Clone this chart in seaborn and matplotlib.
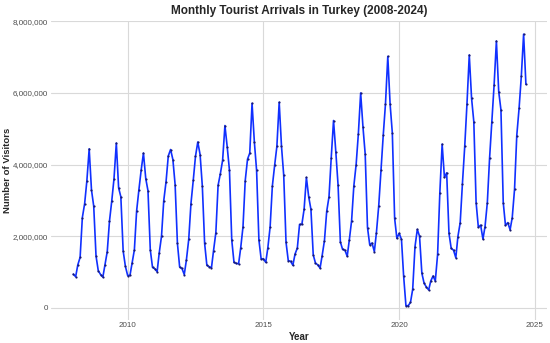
import numpy as np
import pandas as pd
import seaborn as sns
import matplotlib
matplotlib.use("Agg")
import matplotlib.pyplot as plt
import matplotlib.dates as mdates
from matplotlib.ticker import FuncFormatter

# monthly arrivals, millions (Jan 2008 - Sep 2024)
y2008 = [0.94, 0.87, 1.20, 1.41, 2.52, 2.91, 3.55, 4.44, 3.29, 2.84, 1.45, 1.04]
y2009 = [0.93, 0.86, 1.20, 1.57, 2.42, 2.99, 3.61, 4.60, 3.35, 3.10, 1.59, 1.16]
y2010 = [0.90, 0.91, 1.25, 1.62, 2.70, 3.30, 3.84, 4.32, 3.61, 3.27, 1.62, 1.13]
y2011 = [1.09, 1.01, 1.53, 2.00, 2.99, 3.52, 4.24, 4.42, 4.14, 3.44, 1.80, 1.14]
y2012 = [1.10, 0.93, 1.34, 1.91, 2.91, 3.56, 4.23, 4.63, 4.28, 3.40, 1.80, 1.19]
y2013 = [1.15, 1.12, 1.60, 2.10, 3.42, 3.75, 4.12, 5.09, 4.49, 3.84, 1.89, 1.27]
y2014 = [1.24, 1.23, 1.67, 2.26, 3.55, 4.15, 4.32, 5.71, 4.63, 3.84, 1.90, 1.37]
y2015 = [1.37, 1.27, 1.67, 2.26, 3.40, 3.98, 4.51, 5.74, 4.51, 3.70, 1.83, 1.32]
y2016 = [1.30, 1.19, 1.50, 1.67, 2.33, 2.33, 2.75, 3.64, 3.10, 2.75, 1.48, 1.25]
y2017 = [1.20, 1.11, 1.46, 1.88, 2.69, 3.10, 4.19, 5.23, 4.35, 3.43, 1.84, 1.63]
y2018 = [1.61, 1.44, 1.89, 2.43, 3.40, 4.00, 4.86, 6.00, 5.05, 4.29, 2.24, 1.76]
y2019 = [1.81, 1.57, 2.10, 2.85, 3.84, 4.83, 5.70, 7.02, 5.69, 4.88, 2.50, 1.94]
y2020 = [2.08, 1.91, 0.89, 0.06, 0.06, 0.15, 0.52, 1.71, 2.19, 2.00, 0.97, 0.69]
y2021 = [0.58, 0.50, 0.75, 0.89, 0.75, 1.49, 3.21, 4.57, 3.64, 3.77, 2.08, 1.66]
y2022 = [1.61, 1.40, 1.99, 2.38, 3.47, 4.51, 5.69, 7.06, 5.85, 5.20, 2.94, 2.25]
y2023 = [2.31, 1.92, 2.27, 2.94, 4.17, 5.19, 6.22, 7.45, 6.04, 5.53, 2.94, 2.30]
y2024 = [2.38, 2.18, 2.52, 3.31, 4.81, 5.57, 6.46, 7.64, 6.24]

values = (y2008 + y2009 + y2010 + y2011 + y2012 + y2013 + y2014 + y2015 + y2016
          + y2017 + y2018 + y2019 + y2020 + y2021 + y2022 + y2023 + y2024)
dates = pd.date_range("2008-01-01", periods=len(values), freq="MS")
df = pd.DataFrame({"date": dates, "visitors": np.array(values) * 1e6})

sns.set_theme(style="whitegrid")
plt.rcParams["font.family"] = ["Liberation Sans", "DejaVu Sans"]

fig, ax = plt.subplots(figsize=(5.5, 3.43), dpi=100)
fig.subplots_adjust(left=0.092, right=0.995, top=0.94, bottom=0.068)

sns.lineplot(data=df, x="date", y="visitors", color="#1030ff", lw=1.2, ax=ax)
sns.scatterplot(data=df, x="date", y="visitors", color="#1a1a6e", s=2.5,
                linewidth=0, ax=ax, zorder=3)

ax.set_xlim(pd.Timestamp("2007-03-01"), pd.Timestamp("2025-06-15"))
ax.set_ylim(-330000, 8020000)
ax.set_xticks([pd.Timestamp(f"{y}-01-01") for y in [2010, 2015, 2020, 2025]])
ax.xaxis.set_major_formatter(mdates.DateFormatter("%Y"))
ax.set_yticks([0, 2e6, 4e6, 6e6, 8e6])
ax.yaxis.set_major_formatter(FuncFormatter(lambda v, p: f"{int(v):,}"))

ax.grid(True, color="#d9d9d9", lw=0.8)
for s in ax.spines.values():
    s.set_visible(False)
ax.tick_params(axis="both", labelsize=5.8, colors="#4d4d4d", length=0, pad=2)

ax.set_title("Monthly Tourist Arrivals in Turkey (2008-2024)", fontsize=8.5,
             fontweight="bold", pad=5)
ax.set_xlabel("Year", fontsize=7, fontweight="bold", labelpad=2)
ax.set_ylabel("Number of Visitors", fontsize=6.8, fontweight="bold")
ax.yaxis.set_label_coords(-0.078, 0.5)

fig.savefig("out.png", dpi=100)
